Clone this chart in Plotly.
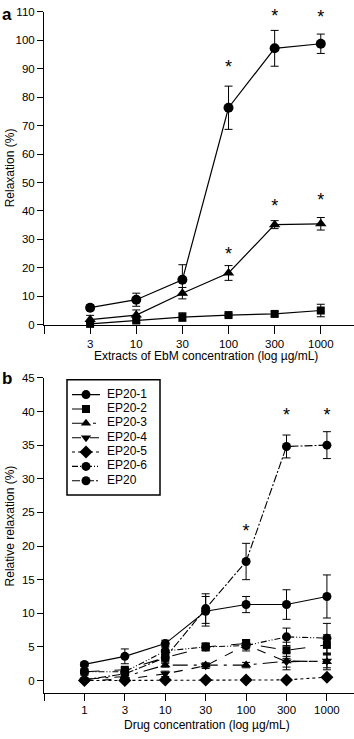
import plotly.graph_objects as go

# ---------------- data ----------------
a_conc = ["3", "10", "30", "100", "300", "1000"]
a_circle = [6.0, 8.8, 15.8, 76.3, 97.2, 98.8]
a_circle_err = [1.0, 2.3, 5.3, 7.6, 6.3, 3.4]
a_tri = [1.8, 3.4, 11.1, 18.2, 35.2, 35.5]
a_tri_err = [1.5, 1.8, 2.0, 2.6, 1.4, 2.2]
a_sq = [0.3, 1.5, 2.7, 3.4, 3.8, 5.0]
a_sq_err = [0.5, 0.8, 1.5, 0.6, 0.8, 2.2]
a_star_x = ["100", "300", "1000", "100", "300", "1000"]
a_star_y = [90.0, 108.0, 107.6, 24.5, 41.3, 43.2]

b_conc = ["1", "3", "10", "30", "100", "300", "1000"]
b_names = ["EP20-1", "EP20-2", "EP20-3", "EP20-4", "EP20-5", "EP20-6", "EP20"]
b_ep20_1 = [2.4, 3.6, 5.5, 10.3, 11.3, 11.3, 12.5]
b_ep20_1_err = [0.3, 1.1, 0.5, 2.2, 1.2, 2.2, 3.2]
b_ep20_2 = [1.3, 1.6, 3.4, 5.0, 5.5, 4.5, 5.3]
b_ep20_2_err = [0.2, 0.3, 0.5, 0.5, 0.6, 1.2, 1.5]
b_ep20_3 = [0.2, 0.6, 2.3, 2.3, 2.3, 2.9, 2.8]
b_ep20_3_err = [0.2, 0.3, 0.3, 0.3, 0.4, 1.3, 1.2]
b_ep20_4 = [0.0, 0.2, 1.0, 2.2, 5.3, 2.8, 2.9]
b_ep20_4_err = [0.1, 0.2, 0.4, 0.4, 0.6, 0.8, 1.0]
b_ep20_5 = [0.0, 0.0, 0.1, 0.1, 0.1, 0.1, 0.5]
b_ep20_5_err = [0.1, 0.1, 0.1, 0.1, 0.1, 0.1, 0.2]
b_ep20_6 = [1.3, 1.3, 4.4, 5.0, 5.2, 6.5, 6.3]
b_ep20_6_err = [0.3, 0.4, 0.6, 0.6, 0.8, 1.3, 2.2]
b_ep20 = [0.1, 1.0, 3.4, 10.7, 17.7, 34.8, 35.0]
b_ep20_err = [0.3, 0.5, 0.8, 2.2, 2.7, 1.7, 2.0]
b_star_x = ["100", "300", "1000"]
b_star_y = [22.0, 39.3, 39.3]

a_yticks = list(range(0, 111, 10))
b_yticks = list(range(0, 46, 5))

# ---------------- figure ----------------
W, H = 354, 739
FONT = "Liberation Sans, Arial, sans-serif"
fig = go.Figure()


def idx(labels, cats):
    return [cats.index(v) for v in labels]


ax = list(range(len(a_conc)))
bx = list(range(len(b_conc)))


def errbar(e):
    return dict(type="data", array=e, visible=True, color="black", thickness=1, width=4)


for y, e, sym, sz in [(a_sq, a_sq_err, "square", 8), (a_tri, a_tri_err, "triangle-up", 10),
                      (a_circle, a_circle_err, "circle", 10)]:
    fig.add_trace(go.Scatter(x=ax, y=y, error_y=errbar(e), mode="lines+markers",
                             line=dict(color="black", width=1.2),
                             marker=dict(symbol=sym, size=sz, color="black"),
                             showlegend=False, cliponaxis=False, xaxis="x", yaxis="y"))

b_styles = [
    ("circle", "solid", 9),
    ("square", "longdash", 8),
    ("triangle-up", "longdashdot", 9),
    ("triangle-down", "dash", 9),
    ("diamond", "dot", 10),
    ("circle", "6px,2px,1px,2px,1px,2px", 9),
    ("circle", "8px,2px,2px,2px", 9),
]
b_values = [(b_ep20_1, b_ep20_1_err), (b_ep20_2, b_ep20_2_err), (b_ep20_3, b_ep20_3_err),
            (b_ep20_4, b_ep20_4_err), (b_ep20_5, b_ep20_5_err), (b_ep20_6, b_ep20_6_err),
            (b_ep20, b_ep20_err)]
for name, (y, e), (sym, dash, sz) in zip(b_names, b_values, b_styles):
    fig.add_trace(go.Scatter(x=bx, y=y, error_y=errbar(e), mode="lines+markers", name=name,
                             line=dict(color="black", width=1.1, dash=dash),
                             marker=dict(symbol=sym, size=sz, color="black"),
                             showlegend=False, cliponaxis=False, xaxis="x2", yaxis="y2"))

# significance stars
fig.add_trace(go.Scatter(x=idx(a_star_x, a_conc), y=a_star_y, mode="text", text=["*"] * len(a_star_x),
                         textfont=dict(size=18, color="black", family=FONT), showlegend=False,
                         cliponaxis=False, xaxis="x", yaxis="y"))
fig.add_trace(go.Scatter(x=idx(b_star_x, b_conc), y=b_star_y, mode="text", text=["*"] * len(b_star_x),
                         textfont=dict(size=18, color="black", family=FONT), showlegend=False,
                         cliponaxis=False, xaxis="x2", yaxis="y2"))

# ---- custom legend (drawn on its own pixel-scaled axes) ----
LEG_W, LEG_H = 93, 117
row_y = [15 + 14.6 * i for i in range(len(b_names))]
for name, (sym, dash, sz), ry in zip(b_names, b_styles, row_y):
    fig.add_trace(go.Scatter(x=[5, 33], y=[ry, ry], mode="lines",
                             line=dict(color="black", width=1.1, dash=dash),
                             showlegend=False, hoverinfo="skip", xaxis="x3", yaxis="y3"))
    fig.add_trace(go.Scatter(x=[19], y=[ry], mode="markers",
                             marker=dict(symbol=sym, size=sz, color="black"),
                             showlegend=False, hoverinfo="skip", xaxis="x3", yaxis="y3"))
fig.add_trace(go.Scatter(x=[40] * len(b_names), y=row_y, mode="text", text=b_names,
                         textposition="middle right",
                         textfont=dict(size=12, color="black", family=FONT),
                         showlegend=False, hoverinfo="skip", cliponaxis=False,
                         xaxis="x3", yaxis="y3"))


def py(p):
    return 1 - p / H


xdom = [44 / W, 1.0]
axis_common = dict(showgrid=False, zeroline=False, showline=True, linecolor="black", linewidth=1,
                   ticks="outside", tickcolor="black", tickwidth=1,
                   tickfont=dict(family=FONT, size=11.5, color="black"))
hidden = dict(visible=False, showgrid=False, zeroline=False, fixedrange=True)

fig.update_layout(
    width=W, height=H, margin=dict(l=0, r=0, t=0, b=0),
    paper_bgcolor="white", plot_bgcolor="white",
    font=dict(family=FONT, color="black"),
    showlegend=False,
    xaxis=dict(domain=xdom, range=[-1.0, 5.72], tickvals=[-1] + ax, ticktext=[""] + a_conc,
               ticklen=8, anchor="y", **axis_common),
    yaxis=dict(domain=[py(324), py(6)], range=[0, 110], tickvals=a_yticks, ticklen=6,
               anchor="x", **axis_common),
    xaxis2=dict(domain=xdom, range=[-1.0, 6.67], tickvals=[-1] + bx, ticktext=[""] + b_conc,
                ticklen=7, anchor="y2", **axis_common),
    yaxis2=dict(domain=[py(698), py(378)], range=[-1.8, 45], tickvals=b_yticks, ticklen=6,
                anchor="x2", **axis_common),
    xaxis3=dict(domain=[67 / W, (67 + LEG_W) / W], range=[0, LEG_W], anchor="y3", **hidden),
    yaxis3=dict(domain=[py(380 + LEG_H), py(380)], range=[LEG_H, 0], anchor="x3", **hidden),
    shapes=[dict(type="rect", xref="paper", yref="paper", x0=67 / W, x1=(67 + LEG_W) / W,
                 y0=py(380 + LEG_H), y1=py(380), line=dict(color="black", width=1.5),
                 fillcolor="rgba(0,0,0,0)", layer="above")],
    annotations=[
        dict(text="Extracts of EbM concentration (log µg/mL)", x=206 / W, y=py(356), xref="paper",
             yref="paper", xanchor="center", yanchor="middle", showarrow=False,
             font=dict(size=12, family=FONT)),
        dict(text="Drug concentration (log µg/mL)", x=207 / W, y=py(731), xref="paper",
             yref="paper", xanchor="center", yanchor="middle", showarrow=False,
             font=dict(size=12, family=FONT)),
        dict(text="Relaxation (%)", x=10 / W, y=py(165), xref="paper", yref="paper",
             xanchor="center", yanchor="middle", showarrow=False, textangle=-90,
             font=dict(size=12, family=FONT)),
        dict(text="Relative relaxation (%)", x=10 / W, y=py(529), xref="paper", yref="paper",
             xanchor="center", yanchor="middle", showarrow=False, textangle=-90,
             font=dict(size=12, family=FONT)),
        dict(text="<b>a</b>", x=0, y=py(9), xref="paper", yref="paper", xanchor="left",
             yanchor="middle", showarrow=False, font=dict(size=17, family=FONT)),
        dict(text="<b>b</b>", x=0, y=py(379), xref="paper", yref="paper", xanchor="left",
             yanchor="middle", showarrow=False, font=dict(size=17, family=FONT)),
    ],
)

fig.write_html("out.html")
